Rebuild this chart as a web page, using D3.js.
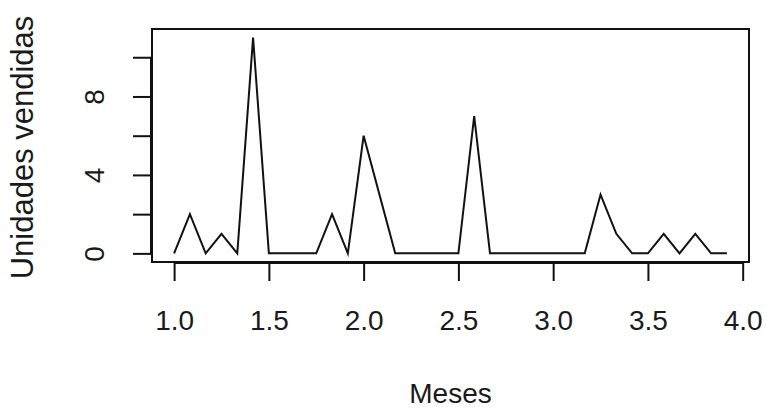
<!DOCTYPE html>
<html>
<head>
<meta charset="utf-8">
<script src="https://cdn.jsdelivr.net/npm/d3@7"></script>
<style>
  body { margin: 0; background: #fff; }
  svg { display: block; }
  text { font-family: "Liberation Sans", Arial, sans-serif; fill: #1a1a1a; }
</style>
</head>
<body>
<div id="chart"></div>
<script>
// sales per period, x in months (12 steps per month)
const meses = d3.range(36).map(i => 1 + i / 12);
const unidades = [0, 2, 0, 1, 0, 11, 0, 0, 0, 0, 2, 0, 6, 3, 0, 0, 0, 0, 0, 7,
                  0, 0, 0, 0, 0, 0, 0, 3, 1, 0, 0, 1, 0, 1, 0, 0];
const xTicks = [1.0, 1.5, 2.0, 2.5, 3.0, 3.5, 4.0];
const yTicks = [0, 2, 4, 6, 8, 10];
const yLabels = [0, 4, 8];

const width = 767, height = 408;
const box = { left: 152, right: 749, top: 29, bottom: 262 };
const fs = 28;

const svg = d3.select("#chart").append("svg")
    .attr("width", width)
    .attr("height", height);

// R style 4% padding around data range
const xr = d3.extent(meses), yr = d3.extent(unidades);
const xpad = (xr[1] - xr[0]) * 0.04, ypad = (yr[1] - yr[0]) * 0.04;
const x = d3.scaleLinear().domain([xr[0] - xpad, xr[1] + xpad]).range([box.left, box.right]);
const y = d3.scaleLinear().domain([yr[0] - ypad, yr[1] + ypad]).range([box.bottom, box.top]);

svg.append("rect")
    .attr("x", box.left).attr("y", box.top)
    .attr("width", box.right - box.left).attr("height", box.bottom - box.top)
    .attr("fill", "none").attr("stroke", "#111").attr("stroke-width", 2);

const line = d3.line().x((d, i) => x(meses[i])).y(d => y(d));
svg.append("path")
    .datum(unidades)
    .attr("d", line)
    .attr("fill", "none")
    .attr("stroke", "#111")
    .attr("stroke-width", 2)
    .attr("stroke-linejoin", "miter");

// x axis
const xAxis = svg.append("g").attr("transform", `translate(0,${box.bottom + 1})`)
    .call(d3.axisBottom(x).tickValues(xTicks).tickSize(18).tickSizeOuter(0).tickPadding(29).tickFormat(d3.format(".1f")));
xAxis.select(".domain").attr("d", `M${x(1)},0H${x(4)}`).attr("stroke", "#111").attr("stroke-width", 2);
xAxis.selectAll(".tick line").attr("stroke", "#111").attr("stroke-width", 2);
xAxis.selectAll(".tick text").attr("font-size", fs).style("font-family", "Liberation Sans, Arial, sans-serif").attr("fill", "#1a1a1a");

// y axis
const yAxis = svg.append("g").attr("transform", `translate(${box.left - 1},0)`)
    .call(d3.axisLeft(y).tickValues(yTicks).tickSize(18).tickSizeOuter(0).tickFormat(d => yLabels.includes(d) ? d : ""));
yAxis.select(".domain").attr("d", `M0,${y(0)}V${y(10)}`).attr("stroke", "#111").attr("stroke-width", 2);
yAxis.selectAll(".tick line").attr("stroke", "#111").attr("stroke-width", 2);
yAxis.selectAll(".tick text")
    .attr("font-size", fs)
    .style("font-family", "Liberation Sans, Arial, sans-serif")
    .attr("fill", "#1a1a1a")
    .attr("x", 0).attr("dy", 0)
    .attr("text-anchor", "middle")
    .attr("transform", "translate(-47,0) rotate(-90)");

svg.append("text")
    .attr("x", (box.left + box.right) / 2)
    .attr("y", 403)
    .attr("text-anchor", "middle")
    .attr("font-size", fs)
    .text("Meses");

svg.append("text")
    .attr("transform", `translate(33,${(box.top + box.bottom) / 2 + 2}) rotate(-90)`)
    .attr("text-anchor", "middle")
    .attr("font-size", 31)
    .text("Unidades vendidas");
</script>
</body>
</html>
